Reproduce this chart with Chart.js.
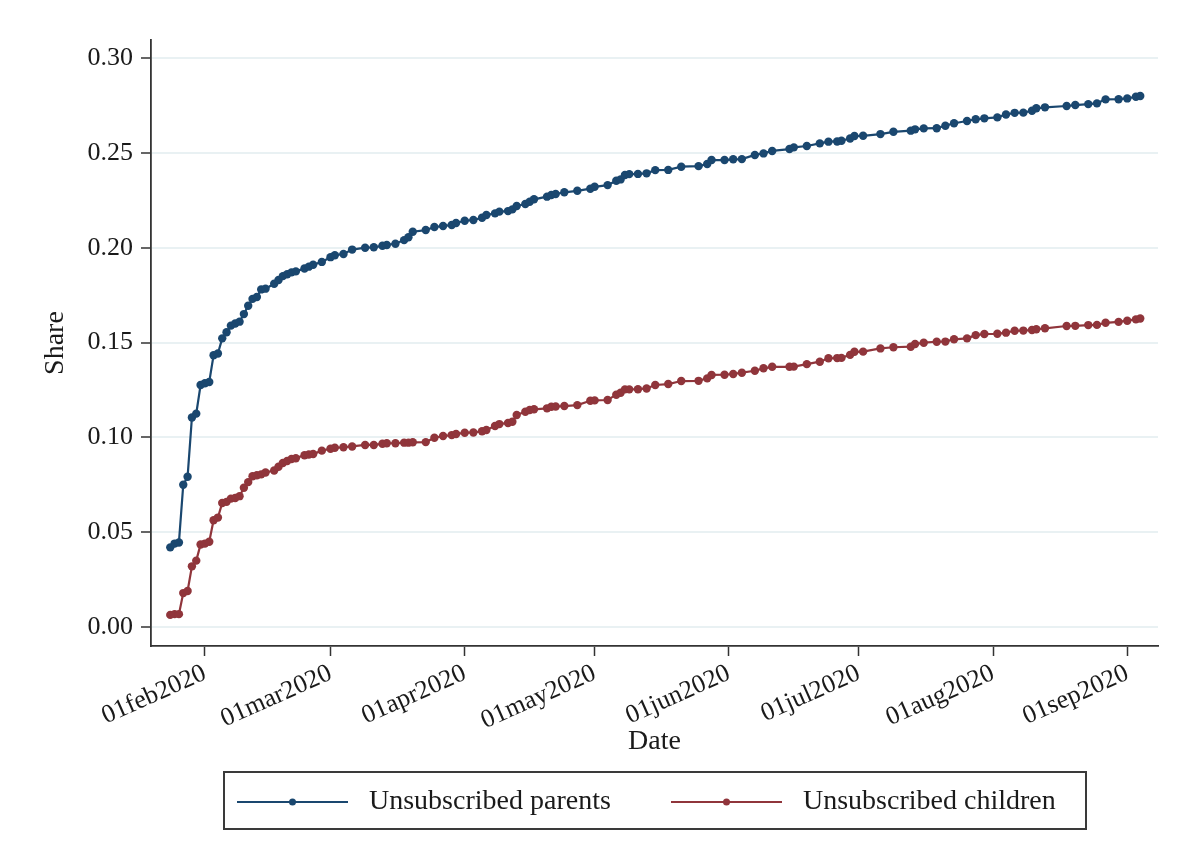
<!DOCTYPE html>
<html>
<head>
<meta charset="utf-8">
<script src="https://cdn.jsdelivr.net/npm/chart.js@4.4.1/dist/chart.umd.min.js"></script>
<style>
  html, body { margin: 0; padding: 0; background: #ffffff; }
  canvas { display: block; }
</style>
</head>
<body>
<canvas id="chart" width="1186" height="866"></canvas>
<script>
// Observation dates
const dates = [
  '2020-01-24','2020-01-25','2020-01-26','2020-01-27','2020-01-28','2020-01-29','2020-01-30','2020-01-31',
  '2020-02-01','2020-02-02','2020-02-03','2020-02-04','2020-02-05','2020-02-06','2020-02-07','2020-02-08',
  '2020-02-09','2020-02-10','2020-02-11','2020-02-12','2020-02-13','2020-02-14','2020-02-15','2020-02-17',
  '2020-02-18','2020-02-19','2020-02-20','2020-02-21','2020-02-22','2020-02-24','2020-02-25','2020-02-26',
  '2020-02-28','2020-03-01','2020-03-02','2020-03-04','2020-03-06','2020-03-09','2020-03-11','2020-03-13',
  '2020-03-14','2020-03-16','2020-03-18','2020-03-19','2020-03-20','2020-03-23','2020-03-25','2020-03-27',
  '2020-03-29','2020-03-30','2020-04-01','2020-04-03','2020-04-05','2020-04-06','2020-04-08','2020-04-09',
  '2020-04-11','2020-04-12','2020-04-13','2020-04-15','2020-04-16','2020-04-17','2020-04-20','2020-04-21',
  '2020-04-22','2020-04-24','2020-04-27','2020-04-30','2020-05-01','2020-05-04','2020-05-06','2020-05-07',
  '2020-05-08','2020-05-09','2020-05-11','2020-05-13','2020-05-15','2020-05-18','2020-05-21','2020-05-25',
  '2020-05-27','2020-05-28','2020-05-31','2020-06-02','2020-06-04','2020-06-07','2020-06-09','2020-06-11',
  '2020-06-15','2020-06-16','2020-06-19','2020-06-22','2020-06-24','2020-06-26','2020-06-27','2020-06-29',
  '2020-06-30','2020-07-02','2020-07-06','2020-07-09','2020-07-13','2020-07-14','2020-07-16','2020-07-19',
  '2020-07-21','2020-07-23','2020-07-26','2020-07-28','2020-07-30','2020-08-02','2020-08-04','2020-08-06',
  '2020-08-08','2020-08-10','2020-08-11','2020-08-13','2020-08-18','2020-08-20','2020-08-23','2020-08-25',
  '2020-08-27','2020-08-30','2020-09-01','2020-09-03','2020-09-04'
];

// Share of unsubscribed parents
const parents = [
  0.042,0.044,0.0446,0.075,0.0792,0.1105,0.1125,0.1276,
  0.1285,0.1292,0.1433,0.1442,0.1522,0.1554,0.1589,0.160,
  0.161,0.165,0.1694,0.173,0.174,0.178,0.1784,0.181,
  0.183,0.185,0.186,0.187,0.1875,0.189,0.190,0.191,
  0.1925,0.195,0.196,0.1967,0.199,0.200,0.2002,0.201,
  0.2014,0.2021,0.204,0.2055,0.2084,0.2093,0.2109,0.2114,
  0.212,0.213,0.2142,0.2146,0.2158,0.2172,0.2181,0.219,
  0.2193,0.2202,0.222,0.223,0.2242,0.2255,0.2269,0.2278,
  0.2283,0.2292,0.230,0.2311,0.2321,0.233,0.2353,0.236,
  0.2383,0.2388,0.2389,0.2392,0.2409,0.241,0.2427,0.243,
  0.2441,0.2462,0.2462,0.2466,0.2467,0.2489,0.2497,0.251,
  0.252,0.2529,0.2536,0.255,0.2559,0.256,0.2564,0.2576,
  0.2589,0.259,0.2599,0.2611,0.2617,0.2624,0.2629,0.263,
  0.2643,0.2656,0.2668,0.2677,0.2682,0.2687,0.2702,0.2711,
  0.2712,0.2722,0.2735,0.274,0.2747,0.2752,0.2757,0.2761,
  0.2782,0.2783,0.2787,0.2796,0.280
];

// Share of unsubscribed children
const children = [
  0.0064,0.0068,0.0068,0.0179,0.019,0.032,0.035,0.0435,
  0.044,0.045,0.0563,0.0577,0.0654,0.066,0.0677,0.068,
  0.069,0.0734,0.0764,0.0795,0.080,0.0805,0.0815,0.0825,
  0.0845,0.0865,0.0875,0.0886,0.089,0.0906,0.091,0.0912,
  0.093,0.094,0.0945,0.0948,0.0952,0.096,0.096,0.0966,
  0.0969,0.0969,0.0972,0.0972,0.0974,0.0975,0.0998,0.1007,
  0.1012,0.1018,0.1024,0.1026,0.1032,0.1039,0.106,0.107,
  0.1076,0.1082,0.1118,0.1135,0.1144,0.1148,0.1153,0.1161,
  0.1163,0.1165,0.117,0.1193,0.1195,0.1197,0.1225,0.1235,
  0.1253,0.1253,0.1254,0.1258,0.1276,0.1281,0.1297,0.1298,
  0.1311,0.1329,0.133,0.1334,0.1341,0.1351,0.1364,0.1372,
  0.1372,0.1373,0.1386,0.1399,0.1417,0.1418,0.1419,0.1435,
  0.1451,0.1452,0.1469,0.1475,0.1478,0.1492,0.1499,0.1504,
  0.1505,0.1517,0.1522,0.1539,0.1545,0.1546,0.1552,0.1562,
  0.1563,0.1566,0.157,0.1575,0.1587,0.1588,0.1592,0.1593,
  0.1604,0.1609,0.1615,0.1622,0.1627
];

// Axis ticks
const xTickDates  = ['2020-02-01','2020-03-01','2020-04-01','2020-05-01','2020-06-01','2020-07-01','2020-08-01','2020-09-01'];
const xTickLabels = ['01feb2020','01mar2020','01apr2020','01may2020','01jun2020','01jul2020','01aug2020','01sep2020'];
const yTicks = [0, 0.05, 0.10, 0.15, 0.20, 0.25, 0.30];

const seriesNames = ['Unsubscribed parents', 'Unsubscribed children'];
const seriesColors = ['#1a476f', '#90353b'];

// Days counted from 1 Feb 2020
const ORIGIN = Date.UTC(2020, 1, 1);
function dayNumber(iso) {
  const [y, m, d] = iso.split('-').map(Number);
  return (Date.UTC(y, m - 1, d) - ORIGIN) / 86400000;
}
const xs = dates.map(dayNumber);
const xTickValues = xTickDates.map(dayNumber);

const FONT = "'Liberation Serif', 'Times New Roman', serif";
const INK = '#1a1a1a';

function makeSeries(values, i) {
  return {
    label: seriesNames[i],
    data: values.map((v, k) => ({ x: xs[k], y: v })),
    borderColor: seriesColors[i],
    backgroundColor: seriesColors[i],
    borderWidth: 2.2,
    pointRadius: 4.2,
    pointBorderWidth: 0,
    pointBackgroundColor: seriesColors[i],
    tension: 0
  };
}

// Boxed legend below the axis title
const boxedLegend = {
  id: 'boxedLegend',
  afterDraw(chart) {
    const ctx = chart.ctx;
    ctx.save();
    ctx.strokeStyle = '#3a3a3a';
    ctx.lineWidth = 2;
    ctx.strokeRect(224, 772, 862, 57);
    const y = 802;
    const items = [{ x0: 237, tx: 369 }, { x0: 671, tx: 803 }];
    items.forEach((it, i) => {
      ctx.strokeStyle = seriesColors[i];
      ctx.lineWidth = 2.2;
      ctx.beginPath();
      ctx.moveTo(it.x0, y);
      ctx.lineTo(it.x0 + 111, y);
      ctx.stroke();
      ctx.fillStyle = seriesColors[i];
      ctx.beginPath();
      ctx.arc(it.x0 + 55.5, y, 3.5, 0, Math.PI * 2);
      ctx.fill();
      ctx.fillStyle = INK;
      ctx.font = "28px " + FONT;
      ctx.textBaseline = 'middle';
      ctx.textAlign = 'left';
      ctx.fillText(seriesNames[i], it.tx, y);
    });
    ctx.restore();
  }
};

new Chart(document.getElementById('chart'), {
  type: 'line',
  data: { datasets: [makeSeries(parents, 0), makeSeries(children, 1)] },
  options: {
    responsive: false,
    animation: false,
    devicePixelRatio: 1,
    layout: { padding: { left: 0, top: 40, right: 28, bottom: 108 } },
    plugins: { legend: { display: false }, tooltip: { enabled: false } },
    scales: {
      x: {
        type: 'linear',
        min: -12.45,
        max: 220.1,
        afterBuildTicks(scale) { scale.ticks = xTickValues.map(v => ({ value: v })); },
        afterFit(scale) { scale.height = 112; },
        ticks: {
          autoSkip: false,
          minRotation: 24,
          maxRotation: 24,
          padding: 2,
          color: INK,
          font: { family: FONT, size: 26 },
          callback(value) {
            const i = xTickValues.indexOf(value);
            return i >= 0 ? xTickLabels[i] : '';
          }
        },
        grid: { drawOnChartArea: false, drawTicks: true, tickLength: 10, tickColor: '#333333', tickWidth: 1.5 },
        border: { display: true, color: '#333333', width: 1.8 },
        title: { display: true, text: 'Date', color: INK, font: { family: FONT, size: 28 }, padding: { top: 0, bottom: 0 } }
      },
      y: {
        type: 'linear',
        min: -0.0100,
        max: 0.3095,
        afterBuildTicks(scale) { scale.ticks = yTicks.map(v => ({ value: v })); },
        afterFit(scale) { scale.width = 151; },
        ticks: {
          padding: 8,
          color: INK,
          font: { family: FONT, size: 26 },
          callback(value) { return Number(value).toFixed(2); }
        },
        grid: { color: '#e9f1f3', lineWidth: 2, drawTicks: true, tickLength: 10, tickColor: '#333333', tickWidth: 1.5 },
        border: { display: true, color: '#333333', width: 1.8 },
        title: { display: true, text: 'Share', color: INK, font: { family: FONT, size: 28 }, padding: { top: 39, bottom: 0 } }
      }
    }
  },
  plugins: [boxedLegend]
});
</script>
</body>
</html>
